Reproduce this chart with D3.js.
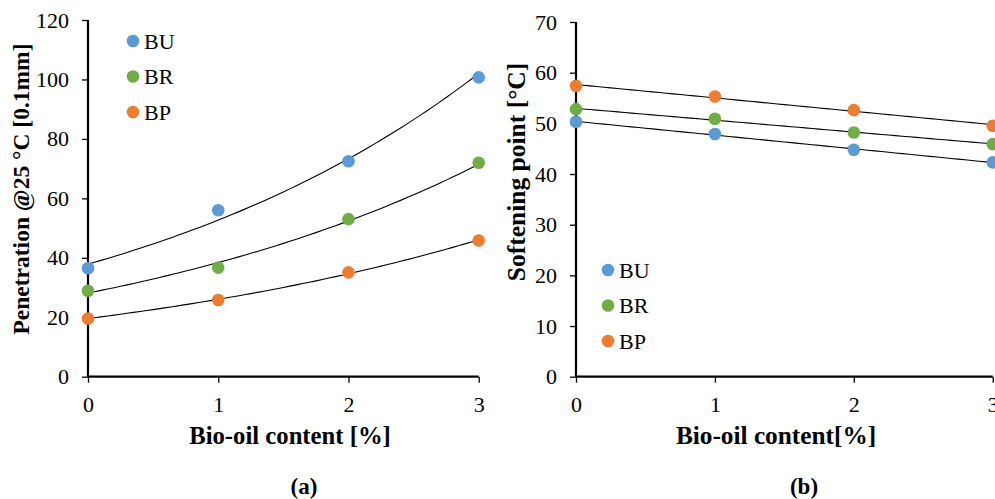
<!DOCTYPE html>
<html>
<head>
<meta charset="utf-8">
<script src="https://cdn.jsdelivr.net/npm/d3@7/dist/d3.min.js"></script>
<style>
  html, body { margin: 0; padding: 0; background: #fff; }
  svg { display: block; }
  text { font-family: "Liberation Serif", "Times New Roman", serif; fill: #000; }
</style>
</head>
<body>
<svg id="chart" width="995" height="499"></svg>
<script>
// Bio-oil content levels (%)
const bioOil = [0, 1, 2, 3];
const seriesNames = ["BU", "BR", "BP"];
const seriesColors = ["#5B9BD5", "#70AD47", "#ED7D31"];

// (a) Penetration at 25 °C [0.1 mm]
const penBU = [36.5, 56.0, 72.5, 100.7];
const penBR = [28.9, 36.7, 53.0, 72.0];
const penBP = [19.6, 25.8, 35.1, 45.8];

// (b) Softening point [°C]
const softBU = [50.3, 47.9, 44.8, 42.3];
const softBR = [52.8, 50.9, 48.2, 45.9];
const softBP = [57.4, 55.3, 52.6, 49.5];

const penTicks = [0, 20, 40, 60, 80, 100, 120];
const softTicks = [0, 10, 20, 30, 40, 50, 60, 70];
const xTicks = [0, 1, 2, 3];

// least-squares line through (x, y)
function linFit(xs, ys) {
  const n = xs.length;
  const mx = d3.mean(xs), my = d3.mean(ys);
  let sxy = 0, sxx = 0;
  for (let i = 0; i < n; i++) { sxy += (xs[i] - mx) * (ys[i] - my); sxx += (xs[i] - mx) ** 2; }
  const b = sxy / sxx;
  const a = my - b * mx;
  return x => a + b * x;
}
// exponential trend y = A·e^(bx), fitted on ln(y)
function expFit(xs, ys) {
  const f = linFit(xs, ys.map(Math.log));
  return x => Math.exp(f(x));
}

const svg = d3.select("#chart");

function panel(opts) {
  const g = svg.append("g");
  const x = d3.scaleLinear().domain([0, 3]).range([opts.x0, opts.x1]);
  const y = d3.scaleLinear().domain([0, opts.ymax]).range([376.7, opts.ytop]);

  // axes
  const yAxis = g.append("g").attr("transform", `translate(${opts.x0},0)`)
    .call(d3.axisLeft(y).tickValues(opts.yTicks).tickSize(6).tickPadding(13).tickFormat(d3.format("d")));
  const xAxis = g.append("g").attr("transform", `translate(0,376.7)`)
    .call(d3.axisBottom(x).tickValues(xTicks).tickSize(6).tickPadding(14).tickFormat(d3.format("d")));
  [xAxis, yAxis].forEach(a => {
    a.select(".domain").attr("stroke", "#000").attr("stroke-width", 2.2);
    a.selectAll(".tick line").attr("stroke", "#000").attr("stroke-width", 1.3);
    a.selectAll(".tick text").style("font-family", '"Liberation Serif", serif').style("font-size", "22px").attr("fill", "#000");
  });
  xAxis.select(".domain").attr("d", `M${opts.x0},0H${opts.x1}`);
  yAxis.select(".domain").attr("d", `M0,${opts.ytop}V376.7`);

  // trend lines
  const xs = d3.range(0, 3.0001, 0.05);
  opts.series.forEach((vals, i) => {
    const f = opts.fit(bioOil, vals);
    g.append("path")
      .attr("d", d3.line().x(d => x(d)).y(d => y(f(d)))(xs))
      .attr("fill", "none").attr("stroke", "#000").attr("stroke-width", 1.1);
  });

  // data points
  opts.series.forEach((vals, i) => {
    g.selectAll(null).data(vals).enter().append("circle")
      .attr("cx", (d, j) => x(bioOil[j])).attr("cy", d => y(d))
      .attr("r", 6.3).attr("fill", seriesColors[i]);
  });

  // legend
  seriesNames.forEach((name, i) => {
    const ly = opts.legY + i * opts.legStep;
    g.append("circle").attr("cx", opts.legX).attr("cy", ly).attr("r", 6.3).attr("fill", seriesColors[i]);
    g.append("text").attr("x", opts.legX + 11).attr("y", ly + 7.5)
      .style("font-size", "22px").text(name);
  });

  // titles
  g.append("text")
    .attr("transform", `translate(${opts.yTitleX},${opts.yTitleY}) rotate(-90)`)
    .attr("text-anchor", "middle").style("font-size", opts.yTitleSize).style("font-weight", "bold")
    .text(opts.yTitle);
  g.append("text").attr("x", opts.xTitleX).attr("y", 444)
    .attr("text-anchor", "middle").style("font-size", opts.xTitleSize).style("font-weight", "bold")
    .text(opts.xTitle);
  g.append("text").attr("x", opts.tagX).attr("y", 494)
    .attr("text-anchor", "middle").style("font-size", "23px").style("font-weight", "bold")
    .text(opts.tag);
}

panel({
  x0: 88, x1: 478.7, ytop: 20, ymax: 120, yTicks: penTicks,
  series: [penBU, penBR, penBP], fit: expFit,
  legX: 133, legY: 41, legStep: 35.5,
  yTitle: "Penetration @25 °C [0.1mm]", yTitleX: 29, yTitleY: 189, yTitleSize: "23.5px",
  xTitle: "Bio-oil content [%]", xTitleX: 290, xTitleSize: "24.7px", tag: "(a)", tagX: 304
});

panel({
  x0: 576, x1: 992.7, ytop: 22, ymax: 70, yTicks: softTicks,
  series: [softBU, softBR, softBP], fit: linFit,
  legX: 608, legY: 270, legStep: 35.5,
  yTitle: "Softening point [°C]", yTitleX: 525, yTitleY: 172, yTitleSize: "25.5px",
  xTitle: "Bio-oil content[%]", xTitleX: 776, xTitleSize: "25.3px", tag: "(b)", tagX: 804
});
</script>
</body>
</html>
